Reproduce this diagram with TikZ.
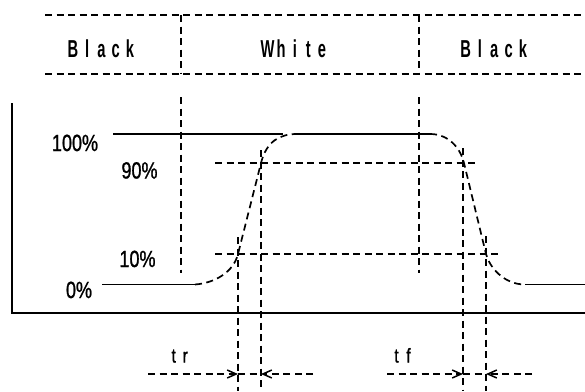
\documentclass[tikz,border=0pt]{standalone}
\usepackage{fontspec}
\setmainfont{Liberation Sans}
\newfontfamily\topfont[FakeStretch=0.6]{Liberation Sans Bold}
\newfontfamily\pctfont[FakeStretch=0.77, FakeBold=1]{Liberation Sans}
\usetikzlibrary{arrows.meta}
\newcommand\lspc[2]{\makebox[#1][c]{#2}}
\tikzset{
  solidln/.style={line width=1.9pt},
  dashln/.style={line width=1.7pt, dash pattern=on 7pt off 4.5pt},
  toplbl/.style={inner sep=0pt, anchor=base, font=\topfont\fontsize{24.5}{24.5}\selectfont},
  pctlbl/.style={inner sep=0pt, anchor=base, font=\pctfont\fontsize{23.4}{23.4}\selectfont},
  tlbl/.style={inner sep=0pt, anchor=base, font=\pctfont\fontsize{20}{20}\selectfont},
  tiptip/.style={-{Straight Barb[length=9pt,width=8pt,line width=1.5pt]}}
}
\begin{document}
\begin{tikzpicture}[x=1pt,y=-1pt]
\useasboundingbox (0,0) rectangle (585,391);
% header band
\coordinate (hTL) at (45,15);  \coordinate (hTR) at (585,15);
\coordinate (hBL) at (45,74);  \coordinate (hBR) at (585,74);
\draw[dashln] (hTL) -- (hTR);
\draw[dashln] (hBL) -- (hBR);
\draw[dashln] (181,15) -- (181,74);
\draw[dashln] (419,15) -- (419,74);
\draw[dashln] (181,97) -- (181,273);
\draw[dashln] (419,97) -- (419,273);
\node[toplbl] (black1) at (101.5,57) {\lspc{14.3pt}{B}\lspc{14.3pt}{l}\lspc{14.3pt}{a}\lspc{14.3pt}{c}\lspc{14.3pt}{k}};
\node[toplbl] (white) at (294.8,57.5) {\lspc{13.6pt}{W}\lspc{13.6pt}{h}\lspc{13.6pt}{i}\lspc{13.6pt}{t}\lspc{13.6pt}{e}};
\node[toplbl] (black2) at (494.3,57) {\lspc{14.3pt}{B}\lspc{14.3pt}{l}\lspc{14.3pt}{a}\lspc{14.3pt}{c}\lspc{14.3pt}{k}};
% axes
\draw[solidln] (12,103) -- (12,313) -- (585,313);
% level labels
\node[pctlbl] (p100) at (75,151) {100\%};
\node[pctlbl] (p90) at (139.5,178.5) {90\%};
\node[pctlbl] (p10) at (137.5,267) {10\%};
\node[pctlbl] (p0) at (79,298) {0\%};
% reference levels
\draw[solidln] (113,134) -- (283,134);
\draw[solidln] (102,284.5) -- (195,284.5);
\draw[dashln] (215,163) -- (477,163);
\draw[dashln] (215,254) -- (498,254);
% waveform
\draw[solidln] (297,134) -- (430,134);
\draw[solidln] (525,284.5) -- (585,284.5);
\draw[dashln] (195,284.5) .. controls (215,283) and (233.5,272) .. (238,254) -- (261,163) .. controls (266.5,141) and (280,134) .. (297,134);
\draw[dashln] (430,134) .. controls (448,134) and (460,147) .. (464,163) -- (486,254) .. controls (489,266) and (503,284.5) .. (525,284.5);
% timing verticals
\draw[dashln] (238,237) -- (238,391);
\draw[dashln] (261,150) -- (261,391);
\draw[dashln] (463,148) -- (463,391);
\draw[dashln] (486,236) -- (486,391);
% tr arrows
\coordinate (trL) at (148,374); \coordinate (trA) at (238,374);
\coordinate (trB) at (261,374); \coordinate (trR) at (313,374);
\draw[dashln,tiptip] (trL) -- (trA);
\draw[dashln] (trA) -- (trB);
\draw[dashln,tiptip] (trR) -- (trB);
\node[tlbl] (tr) at (179.5,362.5) {\lspc{11.5pt}{t}\lspc{11.5pt}{r}};
% tf arrows
\coordinate (tfL) at (387,374); \coordinate (tfA) at (463,374);
\coordinate (tfB) at (486,374); \coordinate (tfR) at (532,374);
\draw[dashln,tiptip] (tfL) -- (tfA);
\draw[dashln] (tfA) -- (tfB);
\draw[dashln,tiptip] (tfR) -- (tfB);
\node[tlbl] (tf) at (402.5,362.5) {\lspc{12pt}{t}\lspc{12pt}{f}};
\end{tikzpicture}
\end{document}
